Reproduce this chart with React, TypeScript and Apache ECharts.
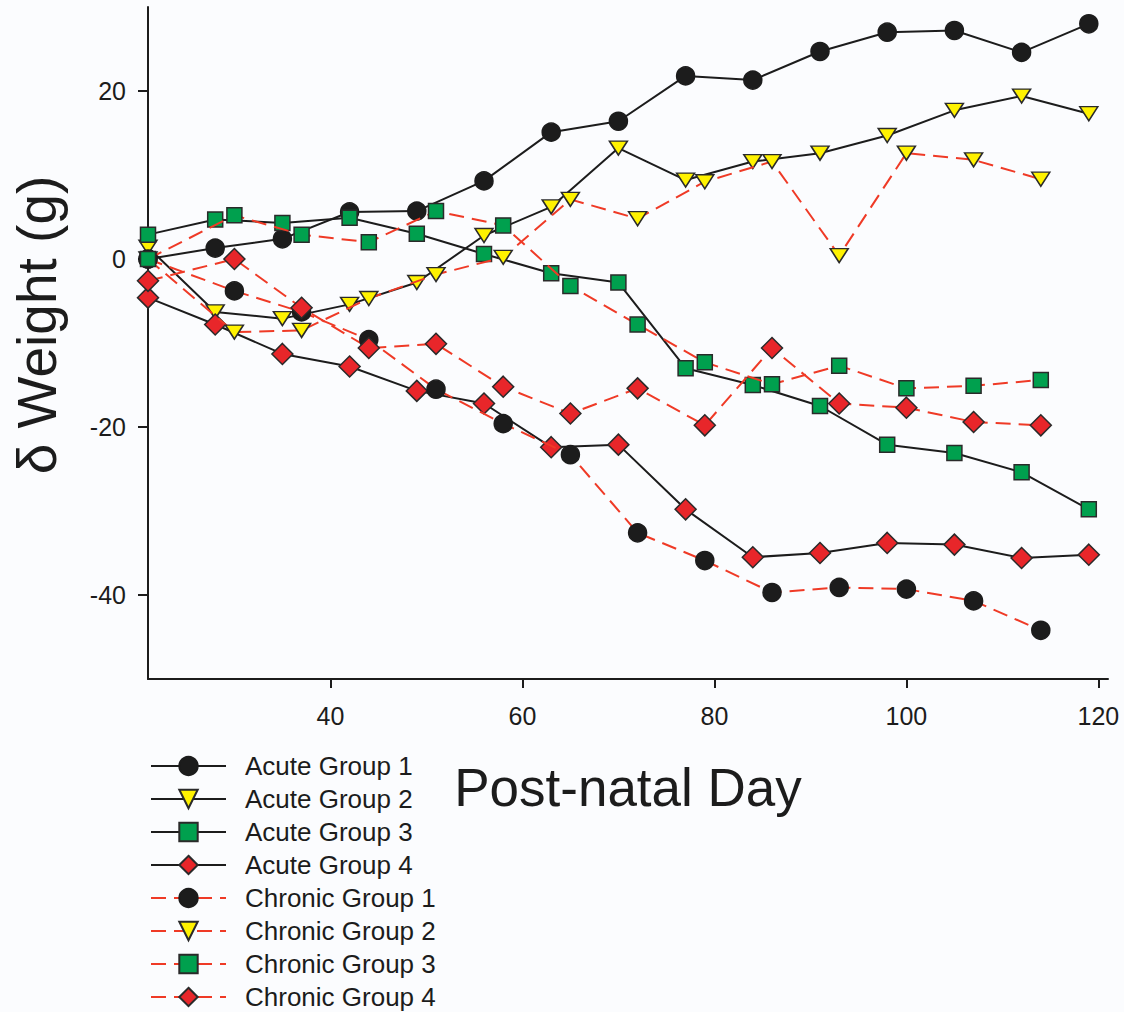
import React, { useEffect, useRef } from "react";
import * as echarts from "echarts";

// ---- Data ----
const acuteDays = [21, 28, 35, 42, 49, 56, 63, 70, 77, 84, 91, 98, 105, 112, 119];
const chronicDays = [21, 30, 37, 44, 51, 58, 65, 72, 79, 86, 93, 100, 107, 114];

const acuteGroup1 = [0, 1.3, 2.4, 5.6, 5.7, 9.3, 15.1, 16.4, 21.8, 21.3, 24.7, 27.0, 27.2, 24.6, 28.0];
const acuteGroup2 = [1.4, -6.3, -7.1, -5.4, -2.8, 2.8, 6.2, 13.2, 9.4, 11.6, 12.6, 14.7, 17.7, 19.4, 17.3];
const acuteGroup3 = [2.9, 4.7, 4.3, 4.9, 3.0, 0.6, -1.7, -2.8, -13.0, -15.0, -17.5, -22.1, -23.1, -25.4, -29.8];
const acuteGroup4 = [-4.6, -7.8, -11.3, -12.8, -15.7, -17.2, -22.4, -22.1, -29.8, -35.5, -35.0, -33.8, -34.0, -35.6, -35.2];

const chronicGroup1 = [0, -3.8, -6.3, -9.6, -15.5, -19.6, -23.3, -32.6, -35.9, -39.7, -39.1, -39.3, -40.7, -44.2];
const chronicGroup2 = [0, -8.7, -8.5, -4.7, -1.85, 0.2, 7.1, 4.8, 9.2, 11.6, 0.4, 12.6, 11.8, 9.5];
const chronicGroup3 = [0, 5.2, 2.9, 2.0, 5.7, 4.0, -3.2, -7.8, -12.3, -14.9, -12.7, -15.4, -15.1, -14.4];
const chronicGroup4 = [-2.6, 0.0, -5.8, -10.6, -10.1, -15.2, -18.4, -15.4, -19.8, -10.6, -17.2, -17.7, -19.4, -19.8];

const seriesNames = [
  "Acute Group 1",
  "Acute Group 2",
  "Acute Group 3",
  "Acute Group 4",
  "Chronic Group 1",
  "Chronic Group 2",
  "Chronic Group 3",
  "Chronic Group 4",
];

const xTickValues = [40, 60, 80, 100, 120];
const yTickValues = [-40, -20, 0, 20];

const xAxisTitle = "Post-natal Day";
const yAxisTitle = "δ Weight (g)";

// ---- Styles ----
const FONT = "'Liberation Sans', Arial, Helvetica, sans-serif";
const INK = "#1c1c1c";
const RED_DASH = "#ef3a26";

const markerStyles: Record<string, any> = {
  circle: { symbol: "circle", symbolSize: 18, symbolRotate: 0, fill: "#1c1c1c", border: "#1c1c1c" },
  triangle: { symbol: "triangle", symbolSize: [18, 14], symbolRotate: 180, fill: "#fff200", border: "#2a2a2a" },
  square: { symbol: "rect", symbolSize: 15, symbolRotate: 0, fill: "#00a04e", border: "#2a2a2a" },
  diamond: { symbol: "diamond", symbolSize: 21, symbolRotate: 0, fill: "#e8262a", border: "#2a2a2a" },
};

const markerOrder = ["circle", "triangle", "square", "diamond"];

function zip(days: number[], vals: number[]) {
  return days.map((d, i) => [d, vals[i]]);
}

export default function App() {
  const ref = useRef<HTMLDivElement>(null);

  useEffect(() => {
    if (!ref.current) return;
    const chart = echarts.init(ref.current, undefined, { renderer: "svg" });

    const allValues = [
      acuteGroup1, acuteGroup2, acuteGroup3, acuteGroup4,
      chronicGroup1, chronicGroup2, chronicGroup3, chronicGroup4,
    ];

    const series = allValues.map((vals, i) => {
      const chronic = i >= 4;
      const m = markerStyles[markerOrder[i % 4]];
      return {
        name: seriesNames[i],
        type: "line",
        data: zip(chronic ? chronicDays : acuteDays, vals),
        symbol: m.symbol,
        symbolSize: m.symbolSize,
        symbolRotate: m.symbolRotate,
        showAllSymbol: true,
        lineStyle: chronic
          ? { color: RED_DASH, width: 2, type: [15, 8] }
          : { color: INK, width: 2, type: "solid" },
        itemStyle: { color: m.fill, borderColor: m.border, borderWidth: 1.5, opacity: 1 },
        emphasis: { disabled: true },
        z: chronic ? 3 : 2,
      };
    });

    chart.setOption({
      animation: false,
      backgroundColor: "#fbfcfe",
      textStyle: { fontFamily: FONT },
      grid: { left: 148, right: 16, top: 7, bottom: 333 },
      xAxis: {
        type: "value",
        min: 21,
        max: 121,
        axisLine: { show: true, onZero: false, lineStyle: { color: INK, width: 2 } },
        axisTick: { show: true, length: 9, lineStyle: { color: INK, width: 2 }, customValues: xTickValues },
        axisLabel: { customValues: xTickValues, fontSize: 25, color: INK, margin: 24, fontFamily: FONT },
        splitLine: { show: false },
      },
      yAxis: {
        type: "value",
        min: -50,
        max: 30,
        axisLine: { show: true, onZero: false, lineStyle: { color: INK, width: 2 } },
        axisTick: { show: true, length: 10, lineStyle: { color: INK, width: 2 }, customValues: yTickValues },
        axisLabel: { customValues: yTickValues, fontSize: 25, color: INK, margin: 22, fontFamily: FONT },
        splitLine: { show: false },
      },
      legend: {
        show: true,
        orient: "vertical",
        left: 150,
        top: 753,
        bottom: 0,
        padding: 0,
        itemWidth: 75,
        itemHeight: 23,
        itemGap: 7,
        data: seriesNames,
        textStyle: { fontSize: 26, color: INK, fontFamily: FONT, lineHeight: 26, padding: [0, 0, 0, 14] },
        selectedMode: false,
      },
      graphic: [
        {
          type: "text",
          x: 628,
          y: 787,
          style: {
            text: xAxisTitle,
            font: `53px ${FONT}`,
            fill: INK,
            textAlign: "center",
            textVerticalAlign: "middle",
          },
        },
        {
          type: "text",
          x: 37,
          y: 325,
          rotation: Math.PI / 2,
          style: {
            text: yAxisTitle,
            font: `55px ${FONT}`,
            fill: INK,
            textAlign: "center",
            textVerticalAlign: "middle",
          },
        },
      ],
      series,
    });

    return () => chart.dispose();
  }, []);

  return <div ref={ref} style={{ width: 1124, height: 1012, position: "absolute", left: 0, top: 0 }} />;
}
